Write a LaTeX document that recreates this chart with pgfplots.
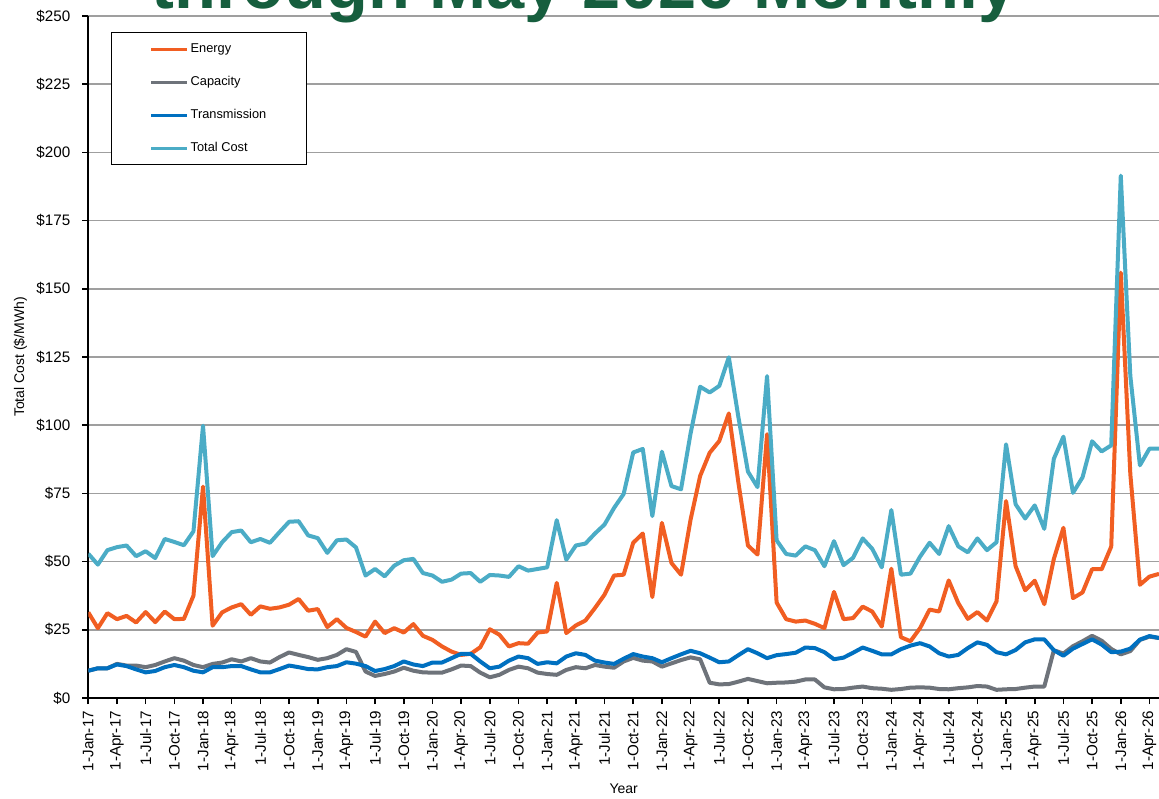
\documentclass[border=0pt]{standalone}
\usepackage{pgfplots}
\pgfplotsset{compat=1.18}
\usepackage{pgfplotstable}
\usepackage{fontspec}
\setmainfont{Liberation Sans}

\definecolor{energy}{RGB}{241,94,34}
\definecolor{capacity}{RGB}{110,115,122}
\definecolor{transm}{RGB}{0,112,192}
\definecolor{totalc}{RGB}{75,172,198}
\definecolor{titlegreen}{RGB}{22,94,62}

% month index (0 = Jan-17), energy, capacity, transmission, total ($/MWh)
\pgfplotstableread{
m E C R T
0 31.4 10.0 10.0 52.9
1 25.6 10.9 10.9 48.9
2 31.1 10.9 10.9 54.2
3 28.9 12.5 12.3 55.3
4 30.1 11.9 11.7 55.9
5 27.7 11.9 10.5 52.0
6 31.5 11.3 9.4 53.8
7 27.8 12.1 9.9 51.3
8 31.7 13.4 11.3 58.3
9 28.9 14.6 12.1 57.2
10 29.0 13.7 11.3 56.0
11 37.5 12.1 10.0 61.1
12 77.5 11.3 9.4 99.8
13 26.5 12.5 11.3 52.0
14 31.4 13.0 11.3 57.1
15 33.2 14.2 11.7 60.8
16 34.4 13.4 11.7 61.4
17 30.5 14.6 10.5 57.1
18 33.6 13.4 9.4 58.3
19 32.7 13.0 9.4 56.9
20 33.2 15.0 10.6 60.8
21 34.2 16.7 11.9 64.6
22 36.3 15.8 11.3 64.8
23 32.0 15.0 10.6 59.6
24 32.6 14.0 10.5 58.6
25 26.0 14.6 11.3 53.2
26 28.9 15.8 11.7 57.8
27 25.7 17.9 13.1 58.1
28 24.2 16.9 12.6 55.2
29 22.5 9.7 11.7 44.9
30 28.0 8.1 9.9 47.3
31 23.8 8.8 10.6 44.6
32 25.6 9.7 11.7 48.5
33 24.0 11.1 13.4 50.5
34 27.1 10.0 12.3 51.0
35 22.8 9.4 11.7 45.8
36 21.3 9.3 13.0 44.9
37 18.9 9.3 13.0 42.6
38 17.0 10.5 14.6 43.4
39 15.8 11.9 16.2 45.6
40 16.2 11.7 16.2 45.8
41 18.6 9.3 13.4 42.6
42 25.2 7.6 10.9 45.1
43 23.2 8.5 11.5 44.9
44 18.9 10.3 13.7 44.4
45 20.1 11.5 15.2 48.3
46 19.9 10.9 14.6 46.7
47 24.0 9.3 12.5 47.3
48 24.4 8.8 13.1 47.9
49 42.2 8.5 12.7 65.2
50 23.8 10.3 15.2 50.7
51 26.6 11.3 16.4 55.9
52 28.4 10.9 15.8 56.6
53 33.0 12.1 13.7 60.3
54 37.9 11.5 13.0 63.6
55 44.9 11.1 12.5 69.7
56 45.2 13.4 14.4 74.8
57 56.9 14.7 16.1 90.0
58 60.3 13.7 15.2 91.3
59 37.0 13.4 14.6 66.7
60 64.2 11.5 13.1 90.3
61 49.5 12.7 14.6 77.7
62 45.2 13.9 16.0 76.5
63 65.4 14.9 17.3 97.0
64 81.4 14.2 16.4 114.1
65 89.9 5.6 14.8 112.0
66 94.2 5.0 13.1 114.4
67 104.3 5.1 13.4 124.9
68 79.0 6.0 15.7 103.0
69 55.9 7.0 17.9 83.0
70 52.6 6.2 16.4 77.3
71 96.7 5.4 14.6 118.0
72 35.0 5.6 15.7 57.8
73 28.9 5.7 16.1 52.8
74 28.0 6.0 16.6 52.2
75 28.4 6.8 18.5 55.6
76 27.2 6.8 18.3 54.2
77 25.6 3.9 16.8 48.3
78 38.9 3.2 14.2 57.5
79 28.9 3.3 14.8 48.7
80 29.3 3.8 16.6 51.4
81 33.5 4.2 18.5 58.5
82 31.7 3.6 17.3 54.7
83 26.2 3.4 16.0 47.9
84 47.4 3.0 16.0 68.9
85 22.3 3.3 17.9 45.2
86 20.8 3.8 19.2 45.6
87 25.6 3.9 20.1 51.8
88 32.4 3.8 18.9 56.9
89 31.7 3.3 16.4 52.8
90 43.1 3.2 15.2 63.0
91 34.8 3.6 15.8 55.6
92 29.0 3.9 18.3 53.4
93 31.5 4.4 20.4 58.5
94 28.4 4.2 19.5 54.2
95 35.4 3.0 16.8 57.1
96 72.2 3.2 16.0 93.0
97 48.3 3.3 17.6 71.0
98 39.5 3.8 20.4 65.8
99 43.0 4.2 21.5 70.6
100 34.4 4.2 21.5 62.0
101 51.0 17.5 17.5 87.7
102 62.4 16.3 15.5 95.8
103 36.6 19.0 18.1 75.2
104 38.7 20.8 19.8 80.9
105 47.2 22.8 21.5 94.1
106 47.2 21.0 19.6 90.4
107 55.5 18.0 16.8 92.6
108 155.9 16.0 17.0 191.5
109 82.0 17.2 18.1 118.0
110 41.5 21.3 21.4 85.3
111 44.5 22.5 22.7 91.4
112 45.5 22.0 22.0 91.4
}\datatable

\begin{document}
\begin{tikzpicture}
\begin{axis}[
    name=ax,
    scale only axis,
    width=535.35pt, height=341pt,
    xmin=0, xmax=112,
    ymin=0, ymax=250,
    axis x line*=bottom,
    axis y line*=left,
    axis line style={black, line width=1pt},
    xtick={0,3,...,111},
    xticklabels={1-Jan-17,1-Apr-17,1-Jul-17,1-Oct-17,1-Jan-18,1-Apr-18,1-Jul-18,1-Oct-18,
        1-Jan-19,1-Apr-19,1-Jul-19,1-Oct-19,1-Jan-20,1-Apr-20,1-Jul-20,1-Oct-20,
        1-Jan-21,1-Apr-21,1-Jul-21,1-Oct-21,1-Jan-22,1-Apr-22,1-Jul-22,1-Oct-22,
        1-Jan-23,1-Apr-23,1-Jul-23,1-Oct-23,1-Jan-24,1-Apr-24,1-Jul-24,1-Oct-24,
        1-Jan-25,1-Apr-25,1-Jul-25,1-Oct-25,1-Jan-26,1-Apr-26},
    xticklabel style={rotate=90, anchor=east, font=\fontsize{7.6pt}{9pt}\selectfont},
    ytick={0,25,...,250},
    yticklabels={\$0,\$25,\$50,\$75,\$100,\$125,\$150,\$175,\$200,\$225,\$250},
    yticklabel style={font=\fontsize{7.6pt}{9pt}\selectfont, xshift=-2.5pt},
    tick align=outside,
    major tick length=3pt,
    tick style={black, line width=0.8pt},
    ymajorgrids,
    grid style={gray!75, line width=0.75pt},
    xlabel={Year},
    ylabel={Total Cost (\$/MWh)},
    label style={font=\fontsize{7pt}{8pt}\selectfont},
    xlabel style={at={(axis description cs:0.5,-0.1334)}, anchor=center},
    ylabel style={at={(axis description cs:-0.0635,0.5)}, anchor=center},
    legend style={at={(axis description cs:0.0212,0.9765)}, anchor=north west,
        draw=black, line width=0.7pt, fill=white,
        font=\fontsize{6.4pt}{7pt}\selectfont,
        inner xsep=19pt, inner ysep=4pt, row sep=8pt,
        nodes={text height=5pt, text depth=1.5pt, inner sep=1pt}},
    legend cell align=left,
    legend image code/.code={\draw[#1, line width=1.5pt] (0pt,0pt) -- (18pt,0pt);},
    every axis plot/.append style={line width=2pt, line join=round, no markers},
]
\addplot[energy] table[x=m, y=E] {\datatable};
\addlegendentry{Energy}
\addplot[capacity] table[x=m, y=C] {\datatable};
\addlegendentry{Capacity}
\addplot[transm] table[x=m, y=R] {\datatable};
\addlegendentry{Transmission}
\addplot[totalc] table[x=m, y=T] {\datatable};
\addlegendentry{Total Cost}
\end{axis}
\node[anchor=base, text=titlegreen, font=\fontsize{34.3pt}{40pt}\selectfont\bfseries]
    at ([shift={(247.85pt,3.5pt)}]ax.north west) {through May 2026 Monthly};
\pgfresetboundingbox
\path[use as bounding box] ([shift={(-44.15pt,-50pt)}]ax.south west)
    rectangle ([shift={(535.35pt,349pt)}]ax.south west);
\end{tikzpicture}
\end{document}
